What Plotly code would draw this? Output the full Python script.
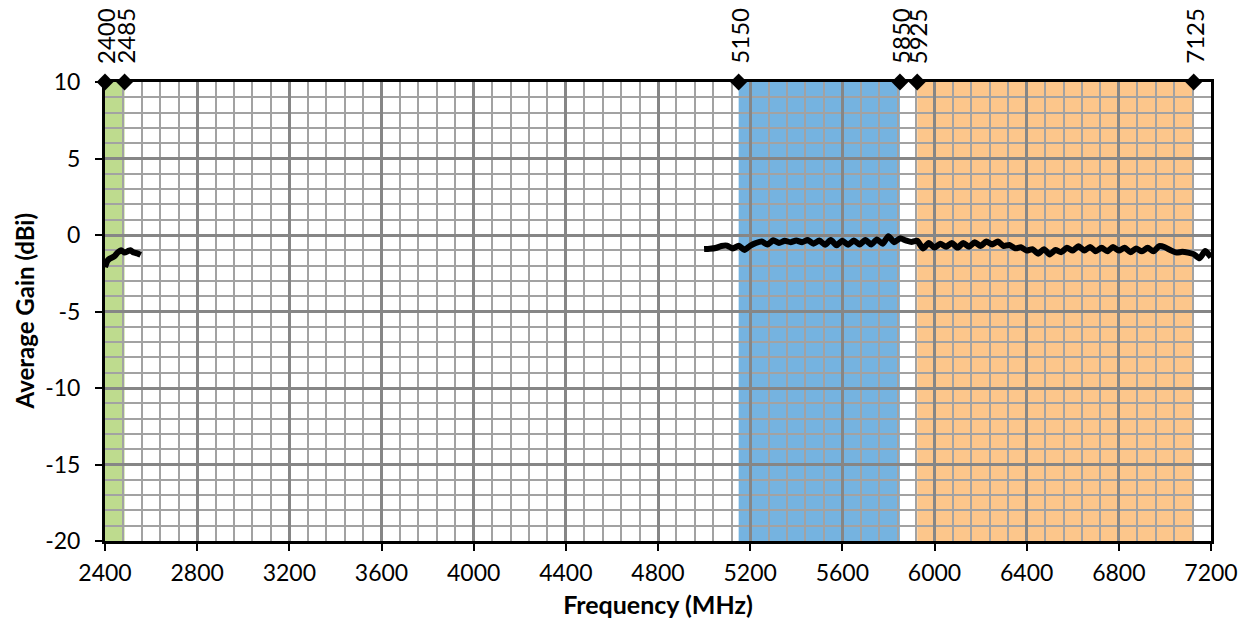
import plotly.graph_objects as go

# ---------------- data ----------------
freq_24 = [2400, 2410, 2420, 2440, 2455, 2470, 2485, 2500, 2510, 2525, 2540, 2555]
gain_24 = [-2.1, -1.7, -1.55, -1.4, -1.15, -1.0, -1.15, -1.05, -1.0, -1.15, -1.2, -1.3]

freq_5_6 = [
    5000, 5025, 5050, 5075, 5100, 5125, 5150, 5175, 5200, 5225,
    5250, 5275, 5300, 5325, 5350, 5375, 5400, 5425, 5450, 5475,
    5500, 5525, 5550, 5575, 5600, 5625, 5650, 5675, 5700, 5725,
    5750, 5775, 5800, 5825, 5850, 5875, 5900, 5925, 5950, 5975,
    6000, 6025, 6050, 6075, 6100, 6125, 6150, 6175, 6200, 6225,
    6250, 6275, 6300, 6325, 6350, 6375, 6400, 6425, 6450, 6475,
    6500, 6525, 6550, 6575, 6600, 6625, 6650, 6675, 6700, 6725,
    6750, 6775, 6800, 6825, 6850, 6875, 6900, 6925, 6950, 6975,
    7000, 7025, 7050, 7075, 7100, 7125, 7150, 7175, 7200,
]
gain_5_6 = [
    -0.92, -0.90, -0.85, -0.72, -0.70, -0.88, -0.70, -0.98, -0.70, -0.52,
    -0.42, -0.62, -0.35, -0.52, -0.38, -0.47, -0.36, -0.47, -0.33, -0.57,
    -0.36, -0.64, -0.33, -0.67, -0.38, -0.64, -0.36, -0.62, -0.33, -0.62,
    -0.30, -0.57, -0.08, -0.47, -0.22, -0.35, -0.45, -0.38, -0.88, -0.52,
    -0.82, -0.57, -0.77, -0.52, -0.82, -0.52, -0.77, -0.47, -0.72, -0.43,
    -0.62, -0.43, -0.72, -0.65, -0.87, -0.80, -1.02, -0.93, -1.22, -0.93,
    -1.27, -0.98, -1.12, -0.83, -1.02, -0.73, -1.02, -0.78, -1.07, -0.83,
    -1.07, -0.78, -1.02, -0.83, -1.12, -0.88, -1.07, -0.83, -1.07, -0.73,
    -0.80, -1.00, -1.15, -1.10, -1.15, -1.25, -1.52, -1.05, -1.45,
]

band_starts = [2400, 5150, 5925]
band_ends = [2485, 5850, 7125]
band_colors = ["#BEDB8E", "#75B3E0", "#FCC68B"]

edge_freqs = [2400, 2485, 5150, 5850, 5925, 7125]
edge_labels = ["2400", "2485", "5150", "5850", "5925", "7125"]
edge_level = 10

x_range = [2400, 7200]
y_range = [-20, 10]
y_tickvals = [-20, -15, -10, -5, 0, 5, 10]
y_ticktext = ["-20", "-15", "-10", "-5", "0", "5", "10"]

x_title = "Frequency (MHz)"
y_title = "Average Gain (dBi)"

FONT = "Lato, 'Open Sans', sans-serif"

fig = go.Figure()

# band shading
for s, e, c in zip(band_starts, band_ends, band_colors):
    fig.add_shape(type="rect", xref="x", yref="y", x0=s, x1=e,
                  y0=y_range[0], y1=y_range[1], fillcolor=c,
                  line=dict(width=0), layer="below")

# gain curves
for fx, gy in [(freq_24, gain_24), (freq_5_6, gain_5_6)]:
    fig.add_trace(go.Scatter(x=fx, y=gy, mode="lines",
                             line=dict(color="black", width=6, shape="spline", smoothing=0.6),
                             showlegend=False, hoverinfo="x+y"))

# band edge markers
fig.add_trace(go.Scatter(x=edge_freqs, y=[edge_level] * len(edge_freqs), mode="markers",
                         marker=dict(symbol="diamond", size=13, color="black"),
                         cliponaxis=False, showlegend=False))

for f, lab in zip(edge_freqs, edge_labels):
    fig.add_annotation(x=f, y=edge_level, xref="x", yref="y", text=lab,
                       showarrow=False, textangle=-90, yanchor="bottom",
                       xanchor="center", yshift=16,
                       font=dict(family=FONT, size=24, color="black"))

# y-axis title placed as a rotated annotation left of the tick labels
fig.add_annotation(x=0, y=0.5, xref="paper", yref="paper", text="<b>" + y_title + "</b>",
                   showarrow=False, textangle=-90, xanchor="center", yanchor="middle",
                   xshift=-81, font=dict(family=FONT, size=24, color="black"))

fig.update_xaxes(range=x_range, dtick=400, tick0=2400,
                 showgrid=True, gridcolor="#868686", gridwidth=2.5,
                 minor=dict(dtick=80, showgrid=True, gridcolor="#A2A2A2", gridwidth=2),
                 showline=True, linecolor="black", linewidth=3, mirror=True,
                 ticks="outside", ticklen=7, tickcolor="black", tickwidth=2,
                 ticklabelstandoff=2, automargin=False,
                 zeroline=False,
                 tickfont=dict(family=FONT, size=23, color="black"),
                 title=dict(text="<b>" + x_title + "</b>", standoff=12,
                            font=dict(family=FONT, size=25, color="black")))
fig.update_yaxes(range=y_range, tickvals=y_tickvals, ticktext=y_ticktext,
                 showgrid=True, gridcolor="#868686", gridwidth=2.5,
                 minor=dict(dtick=1, showgrid=True, gridcolor="#A2A2A2", gridwidth=2),
                 showline=True, linecolor="black", linewidth=3, mirror=True,
                 ticks="outside", ticklen=7, tickcolor="black", tickwidth=2,
                 ticklabelstandoff=10, automargin=False,
                 zeroline=False,
                 tickfont=dict(family=FONT, size=23, color="black"))

# page body has an 8px default margin, so the figure is sized to fill the rest
fig.update_layout(width=1242, height=616,
                  margin=dict(l=97, r=39, t=74, b=83, autoexpand=False),
                  paper_bgcolor="white", plot_bgcolor="white",
                  font=dict(family=FONT, color="black"))

fig.write_html("out.html")
